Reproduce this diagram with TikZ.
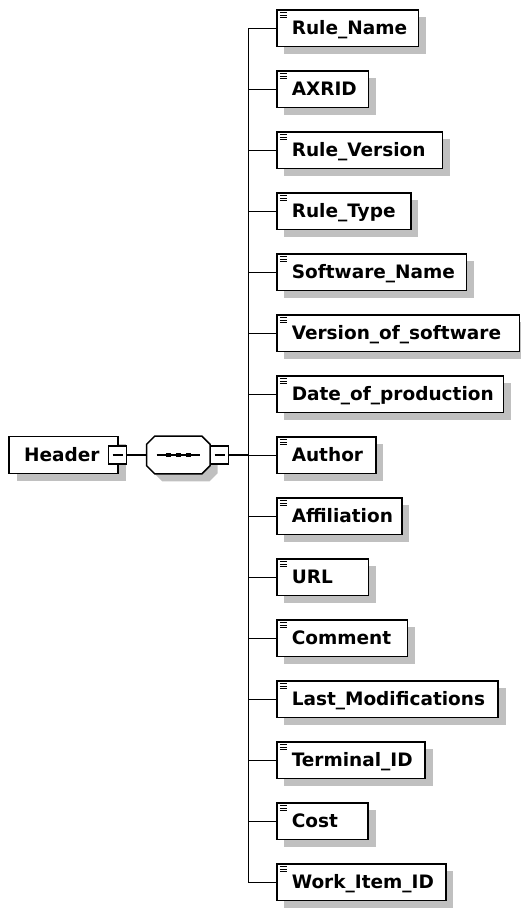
\documentclass[tikz,border=0pt]{standalone}
\usepackage{fontspec}
\setmainfont{DejaVu Sans}
\usetikzlibrary{shadows}

\definecolor{shadowgray}{RGB}{192,192,192}

\tikzset{
  boxshadow/.style={general shadow={fill=shadowgray, shadow xshift=7.5pt, shadow yshift=-7.5pt}},
  elem/.style={draw, fill=white, line width=1.5pt, minimum height=36.7pt,
    inner xsep=15pt, inner ysep=0pt, text height=13.3pt, text depth=0pt,
    font=\fontsize{18.5}{20}\selectfont\bfseries, boxshadow},
  leaf/.style={elem, path picture={
      \foreach \k in {0,1,2}
        \draw[line width=0.9pt] ([shift={(3pt,{-2.8pt-\k*2.4pt})}]path picture bounding box.north west) -- ++(7.5pt,0);}},
  toggle/.style={draw, fill=white, line width=1.5pt, minimum size=18pt, inner sep=0pt,
    path picture={\draw[line width=1.5pt] ([xshift=4pt]path picture bounding box.west)
      -- ([xshift=-4pt]path picture bounding box.east);}},
}

\begin{document}
\begin{tikzpicture}[x=1pt, y=-1pt, line width=1.5pt]
    \useasboundingbox (0,0) rectangle (520,909);

    % Root element
    \node[elem, anchor=west] (header) at (8.3,455) {\makebox[79pt][l]{Header}};
    \node[toggle] (htog) at (117.5,455) {};

    % Sequence octagon
    \coordinate (seq) at (178.3,455);
    \coordinate (seqw) at (146.7,455);
    \draw[fill=white, boxshadow] (146.7,444.2) -- (146.7,465.8) -- (154.7,473.8) -- (202,473.8)
        -- (210,465.8) -- (210,444.2) -- (202,436.2) -- (154.7,436.2) -- cycle;
    \draw (seq) ++(-21.7,0) -- ++(43.4,0);
    \foreach \dx in {-10,0,10}
        \fill ([xshift=\dx pt]seq) +(-2.3,-2.3) rectangle +(2.3,2.3);
    \node[toggle] (stog) at (219.7,455) {};
    \coordinate (trunk) at (248.3,455);

    % Child elements
    \foreach \name/\w [count=\i from 0] in {
        Rule\_Name/141.7, AXRID/91.7, Rule\_Version/165.7, Rule\_Type/134,
        Software\_Name/189.7, Version\_of\_software/242.7, Date\_of\_production/226.7,
        Author/99, Affiliation/125, URL/91.7, Comment/130.7,
        Last\_Modifications/221.3, Terminal\_ID/148.3, Cost/91.3, Work\_Item\_ID/169}
    {
        \node[leaf, anchor=west] (e\i) at (276,{28.3+61*\i})
            {\makebox[\dimexpr\w pt-30pt\relax][l]{\name}};
        \draw (e\i.west -| trunk) -- (e\i.west);
    }

    % Connectors
    \draw (htog.east) -- (seqw);
    \draw (stog.east) -- (trunk);
    \draw (e0.west -| trunk) -- (e14.west -| trunk);
\end{tikzpicture}
\end{document}
